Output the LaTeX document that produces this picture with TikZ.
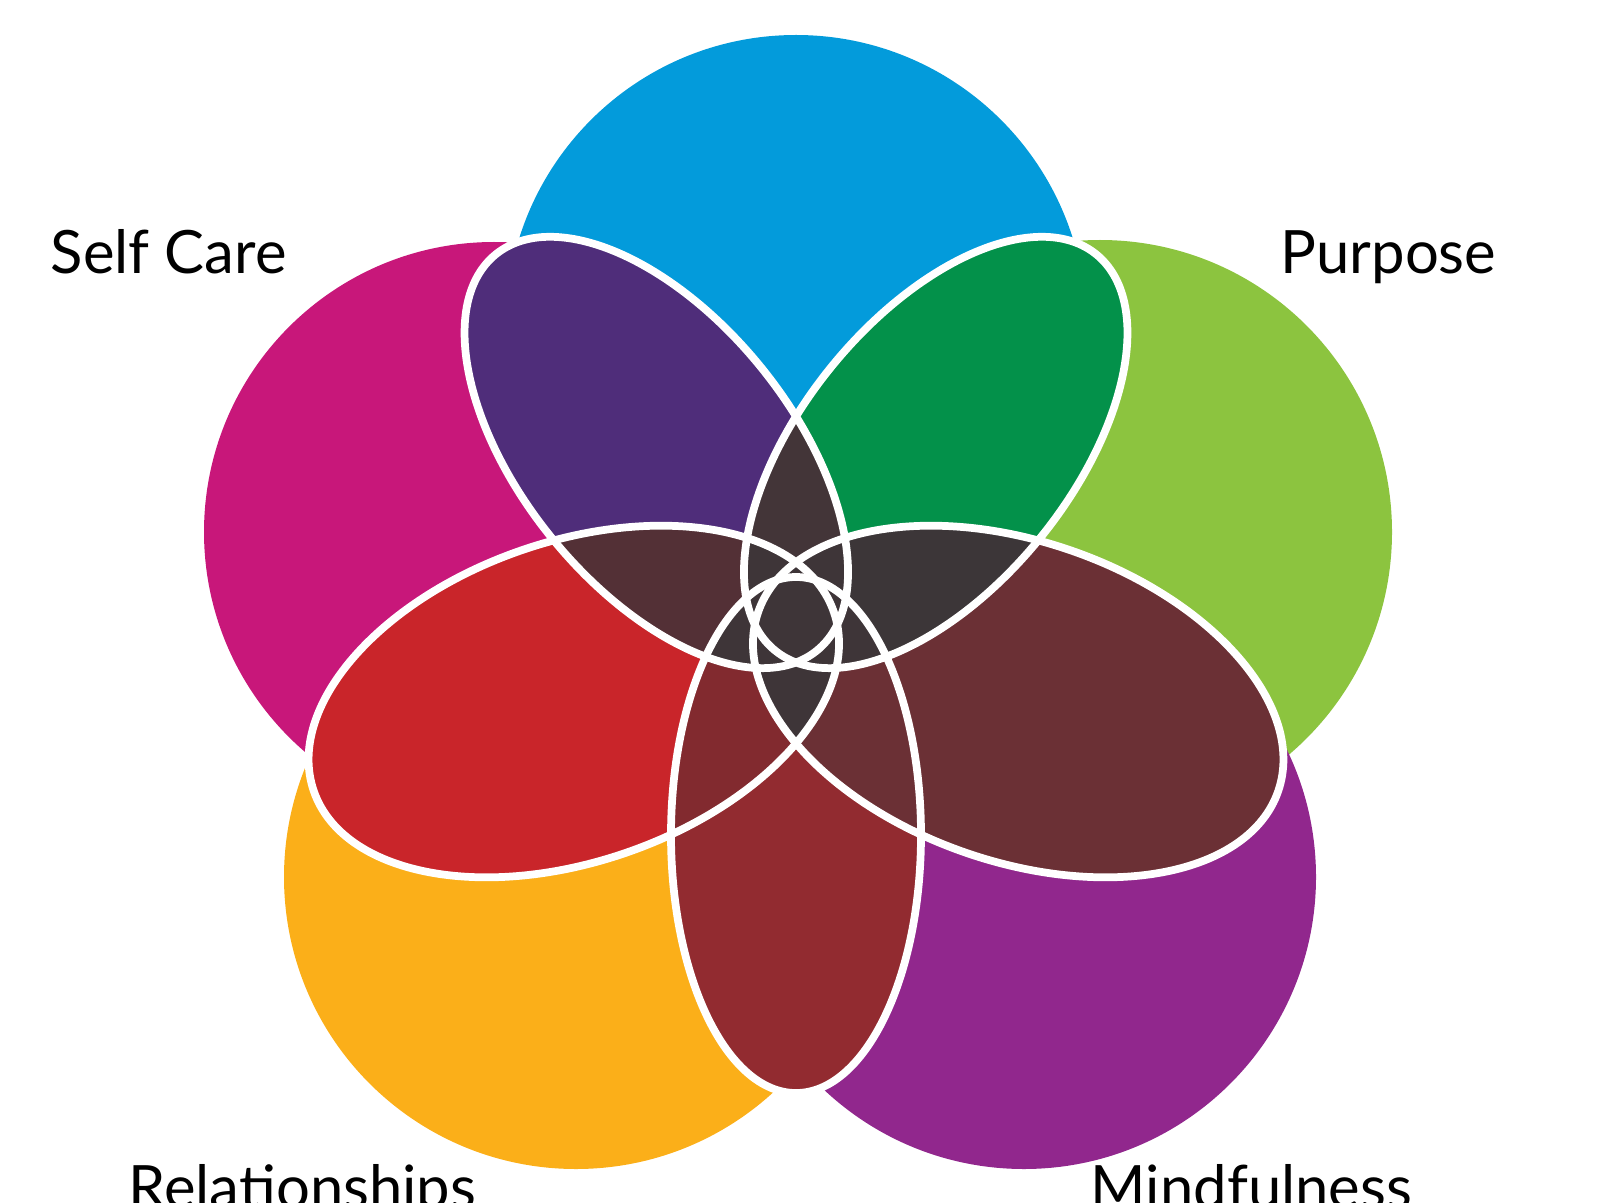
\documentclass[tikz,border=0pt]{standalone}
\usepackage{fontspec}
\setmainfont{Lato}
\definecolor{cblue}{HTML}{039BDB}
\definecolor{cmag}{HTML}{C8177A}
\definecolor{cgreen}{HTML}{8CC43F}
\definecolor{corange}{HTML}{FBAF19}
\definecolor{cviolet}{HTML}{91278D}
\definecolor{ppurple}{HTML}{4F2D7A}
\definecolor{pgreen}{HTML}{03914A}
\definecolor{pred}{HTML}{C9252A}
\definecolor{pbrown}{HTML}{6B3035}
\definecolor{pdred}{HTML}{922B30}
\definecolor{oA}{HTML}{433538}
\definecolor{oB}{HTML}{533036}
\definecolor{oC}{HTML}{3C3638}
\definecolor{oD}{HTML}{822A2F}
\definecolor{oE}{HTML}{6B3035}
\definecolor{odark}{HTML}{3E3538}
% petals: angle -> distance, semi-axes
\newcommand\pet[1]{%
  \ifnum#1=126 [shift={(796,577)},shift={(129:222)},rotate=129] (0,0) ellipse (255 and 135)\fi
  \ifnum#1=54 [shift={(796,577)},shift={(51:222)},rotate=51] (0,0) ellipse (255 and 135)\fi
  \ifnum#1=198 [shift={(796,577)},shift={(199:235)},rotate=199] (0,0) ellipse (275 and 160)\fi
  \ifnum#1=342 [shift={(796,577)},shift={(341:235)},rotate=341] (0,0) ellipse (275 and 160)\fi
  \ifnum#1=270 [shift={(796,577)},shift={(270:210)},rotate=270] (0,0) ellipse (258 and 125)\fi}
\tikzset{lab/.style={font=\fontsize{17}{20}\selectfont,text=black,inner sep=0pt}}
\begin{document}
\begin{tikzpicture}[x=0.01cm,y=0.01cm]
\useasboundingbox (0,0) rectangle (1600,1202);
\fill[cblue] (796,877) circle (290);
\fill[cmag] (494,670) circle (290);
\fill[cgreen] (1100,670) circle (292);
\fill[corange] (576,325) circle (292);
\fill[cviolet] (1024,325) circle (292);
\foreach \t/\c in {126/ppurple,54/pgreen,198/pred,342/pbrown,270/pdred}
  \fill[\c] \pet{\t};
\foreach \a/\b/\c in {126/54/oA,126/198/oB,54/342/oC,198/270/oD,342/270/oE,126/342/odark,126/270/odark,54/198/odark,54/270/odark,198/342/odark}{
  \begin{scope}
    \clip \pet{\a};
    \fill[\c] \pet{\b};
  \end{scope}}
\foreach \t in {126,54,198,342,270}
  \draw[white,line width=2.2pt] \pet{\t};
\node[lab,anchor=base west] (sc) at (50,928) {Self Care};
\node[lab,anchor=base west] (pu) at (1280,928) {Purpose};
\node[lab,anchor=north west] (re) at (128,38) {Relationships};
\node[lab,anchor=north west] (mi) at (1090,38) {Mindfulness};
\end{tikzpicture}
\end{document}
